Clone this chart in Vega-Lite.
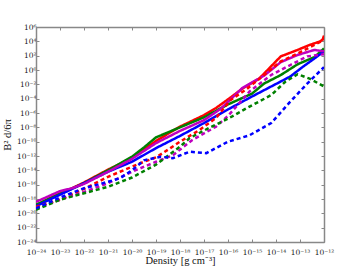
{
  "$schema": "https://vega.github.io/schema/vega-lite/v6.json",
  "width": 288,
  "height": 215,
  "autosize": {"type": "none"},
  "padding": {"left": 36, "top": 27, "right": 36, "bottom": 28},
  "background": "white",
  "config": {
    "view": {"stroke": null},
    "axis": {
      "grid": false,
      "domainColor": "#888888",
      "domainWidth": 1.5,
      "tickColor": "#888888",
      "tickSize": -3,
      "tickWidth": 1,
      "labelFont": "DejaVu Serif",
      "labelFontSize": 7.5,
      "labelColor": "#222222",
      "titleFont": "Liberation Serif",
      "titleFontSize": 10.5,
      "titleFontWeight": "normal",
      "titleColor": "#111111"
    }
  },
  "data": {
    "values": [
      {"run": "red", "style": "solid", "log_density": -24, "log_B": -18.9},
      {"run": "red", "style": "solid", "log_density": -23.5, "log_B": -18.0},
      {"run": "red", "style": "solid", "log_density": -23, "log_B": -17.2},
      {"run": "red", "style": "solid", "log_density": -22.5, "log_B": -16.5},
      {"run": "red", "style": "solid", "log_density": -22, "log_B": -15.7},
      {"run": "red", "style": "solid", "log_density": -21.5, "log_B": -14.8},
      {"run": "red", "style": "solid", "log_density": -21, "log_B": -13.9},
      {"run": "red", "style": "solid", "log_density": -20.5, "log_B": -13.1},
      {"run": "red", "style": "solid", "log_density": -20, "log_B": -12.2},
      {"run": "red", "style": "solid", "log_density": -19.5, "log_B": -11.1},
      {"run": "red", "style": "solid", "log_density": -19, "log_B": -9.9},
      {"run": "red", "style": "solid", "log_density": -18.5, "log_B": -8.9},
      {"run": "red", "style": "solid", "log_density": -18, "log_B": -7.9},
      {"run": "red", "style": "solid", "log_density": -17.5, "log_B": -7.1},
      {"run": "red", "style": "solid", "log_density": -17, "log_B": -6.3},
      {"run": "red", "style": "solid", "log_density": -16.5, "log_B": -5.3},
      {"run": "red", "style": "solid", "log_density": -16, "log_B": -4.1},
      {"run": "red", "style": "solid", "log_density": -15.4, "log_B": -2.6},
      {"run": "red", "style": "solid", "log_density": -14.7, "log_B": -1.2},
      {"run": "red", "style": "solid", "log_density": -13.8, "log_B": 1.9},
      {"run": "red", "style": "solid", "log_density": -13.1, "log_B": 2.8},
      {"run": "red", "style": "solid", "log_density": -12.6, "log_B": 3.5},
      {"run": "red", "style": "solid", "log_density": -12.15, "log_B": 4.0},
      {"run": "red", "style": "solid", "log_density": -12.05, "log_B": 4.3},
      {"run": "red", "style": "solid", "log_density": -12, "log_B": 4.8},

      {"run": "green", "style": "solid", "log_density": -24, "log_B": -18.8},
      {"run": "green", "style": "solid", "log_density": -23, "log_B": -17.3},
      {"run": "green", "style": "solid", "log_density": -22, "log_B": -15.8},
      {"run": "green", "style": "solid", "log_density": -21, "log_B": -14.0},
      {"run": "green", "style": "solid", "log_density": -20, "log_B": -12.1},
      {"run": "green", "style": "solid", "log_density": -19.5, "log_B": -10.8},
      {"run": "green", "style": "solid", "log_density": -19, "log_B": -9.4},
      {"run": "green", "style": "solid", "log_density": -18.5, "log_B": -8.7},
      {"run": "green", "style": "solid", "log_density": -18, "log_B": -8.0},
      {"run": "green", "style": "solid", "log_density": -17, "log_B": -6.6},
      {"run": "green", "style": "solid", "log_density": -16, "log_B": -4.8},
      {"run": "green", "style": "solid", "log_density": -15, "log_B": -3.3},
      {"run": "green", "style": "solid", "log_density": -14.5, "log_B": -1.9},
      {"run": "green", "style": "solid", "log_density": -13.8, "log_B": -0.7},
      {"run": "green", "style": "solid", "log_density": -13.1, "log_B": 0.8},
      {"run": "green", "style": "solid", "log_density": -12.4, "log_B": 1.8},
      {"run": "green", "style": "solid", "log_density": -12, "log_B": 3.0},

      {"run": "blue", "style": "solid", "log_density": -24, "log_B": -19.0},
      {"run": "blue", "style": "solid", "log_density": -23, "log_B": -17.4},
      {"run": "blue", "style": "solid", "log_density": -22, "log_B": -15.8},
      {"run": "blue", "style": "solid", "log_density": -21, "log_B": -14.2},
      {"run": "blue", "style": "solid", "log_density": -20, "log_B": -12.8},
      {"run": "blue", "style": "solid", "log_density": -19, "log_B": -10.9},
      {"run": "blue", "style": "solid", "log_density": -18, "log_B": -9.2},
      {"run": "blue", "style": "solid", "log_density": -17, "log_B": -7.4},
      {"run": "blue", "style": "solid", "log_density": -16, "log_B": -5.5},
      {"run": "blue", "style": "solid", "log_density": -15, "log_B": -3.7},
      {"run": "blue", "style": "solid", "log_density": -14.2, "log_B": -2.3},
      {"run": "blue", "style": "solid", "log_density": -13.4, "log_B": -0.9},
      {"run": "blue", "style": "solid", "log_density": -12.9, "log_B": 0.4},
      {"run": "blue", "style": "solid", "log_density": -12.4, "log_B": 1.6},
      {"run": "blue", "style": "solid", "log_density": -12, "log_B": 2.6},

      {"run": "magenta", "style": "solid", "log_density": -24, "log_B": -18.4},
      {"run": "magenta", "style": "solid", "log_density": -23.6, "log_B": -17.8},
      {"run": "magenta", "style": "solid", "log_density": -23, "log_B": -16.9},
      {"run": "magenta", "style": "solid", "log_density": -22.5, "log_B": -16.5},
      {"run": "magenta", "style": "solid", "log_density": -22, "log_B": -15.9},
      {"run": "magenta", "style": "solid", "log_density": -21, "log_B": -14.2},
      {"run": "magenta", "style": "solid", "log_density": -20, "log_B": -12.4},
      {"run": "magenta", "style": "solid", "log_density": -19, "log_B": -10.2},
      {"run": "magenta", "style": "solid", "log_density": -18, "log_B": -8.5},
      {"run": "magenta", "style": "solid", "log_density": -17, "log_B": -7.0},
      {"run": "magenta", "style": "solid", "log_density": -16.3, "log_B": -5.4},
      {"run": "magenta", "style": "solid", "log_density": -15.8, "log_B": -3.8},
      {"run": "magenta", "style": "solid", "log_density": -15.4, "log_B": -2.5},
      {"run": "magenta", "style": "solid", "log_density": -14.5, "log_B": -0.8},
      {"run": "magenta", "style": "solid", "log_density": -13.8, "log_B": 1.1},
      {"run": "magenta", "style": "solid", "log_density": -13.1, "log_B": 2.1},
      {"run": "magenta", "style": "solid", "log_density": -12.4, "log_B": 2.8},
      {"run": "magenta", "style": "solid", "log_density": -12, "log_B": 2.6},

      {"run": "red", "style": "dashed", "log_density": -24, "log_B": -19.1},
      {"run": "red", "style": "dashed", "log_density": -23, "log_B": -18.1},
      {"run": "red", "style": "dashed", "log_density": -22, "log_B": -16.6},
      {"run": "red", "style": "dashed", "log_density": -21, "log_B": -14.9},
      {"run": "red", "style": "dashed", "log_density": -20.5, "log_B": -14.2},
      {"run": "red", "style": "dashed", "log_density": -20, "log_B": -13.5},
      {"run": "red", "style": "dashed", "log_density": -19.5, "log_B": -12.8},
      {"run": "red", "style": "dashed", "log_density": -19, "log_B": -12.2},
      {"run": "red", "style": "dashed", "log_density": -18.4, "log_B": -10.9},
      {"run": "red", "style": "dashed", "log_density": -18, "log_B": -10.0},
      {"run": "red", "style": "dashed", "log_density": -17.2, "log_B": -8.4},
      {"run": "red", "style": "dashed", "log_density": -16.5, "log_B": -6.7},
      {"run": "red", "style": "dashed", "log_density": -15.9, "log_B": -4.2},
      {"run": "red", "style": "dashed", "log_density": -15.2, "log_B": -2.6},
      {"run": "red", "style": "dashed", "log_density": -14.5, "log_B": -0.7},
      {"run": "red", "style": "dashed", "log_density": -13.8, "log_B": 1.2},
      {"run": "red", "style": "dashed", "log_density": -13.1, "log_B": 2.3},
      {"run": "red", "style": "dashed", "log_density": -12.4, "log_B": 3.5},
      {"run": "red", "style": "dashed", "log_density": -12, "log_B": 4.2},

      {"run": "magenta", "style": "dashed", "log_density": -24, "log_B": -19.3},
      {"run": "magenta", "style": "dashed", "log_density": -23, "log_B": -18.1},
      {"run": "magenta", "style": "dashed", "log_density": -22, "log_B": -17.0},
      {"run": "magenta", "style": "dashed", "log_density": -21, "log_B": -15.8},
      {"run": "magenta", "style": "dashed", "log_density": -20, "log_B": -14.2},
      {"run": "magenta", "style": "dashed", "log_density": -19, "log_B": -12.8},
      {"run": "magenta", "style": "dashed", "log_density": -18.3, "log_B": -11.9},
      {"run": "magenta", "style": "dashed", "log_density": -17.5, "log_B": -9.8},
      {"run": "magenta", "style": "dashed", "log_density": -16.5, "log_B": -7.9},
      {"run": "magenta", "style": "dashed", "log_density": -16, "log_B": -6.4},
      {"run": "magenta", "style": "dashed", "log_density": -15.1, "log_B": -3.0},
      {"run": "magenta", "style": "dashed", "log_density": -14.2, "log_B": -0.7},
      {"run": "magenta", "style": "dashed", "log_density": -13.4, "log_B": 0.7},
      {"run": "magenta", "style": "dashed", "log_density": -12.7, "log_B": 1.9},
      {"run": "magenta", "style": "dashed", "log_density": -12, "log_B": 2.2},

      {"run": "green", "style": "dashed", "log_density": -24, "log_B": -19.5},
      {"run": "green", "style": "dashed", "log_density": -23, "log_B": -18.1},
      {"run": "green", "style": "dashed", "log_density": -22, "log_B": -17.2},
      {"run": "green", "style": "dashed", "log_density": -21, "log_B": -16.3},
      {"run": "green", "style": "dashed", "log_density": -20, "log_B": -15.0},
      {"run": "green", "style": "dashed", "log_density": -19, "log_B": -13.2},
      {"run": "green", "style": "dashed", "log_density": -18, "log_B": -10.7},
      {"run": "green", "style": "dashed", "log_density": -17.6, "log_B": -9.5},
      {"run": "green", "style": "dashed", "log_density": -16.8, "log_B": -8.1},
      {"run": "green", "style": "dashed", "log_density": -16, "log_B": -6.8},
      {"run": "green", "style": "dashed", "log_density": -15.1, "log_B": -5.1},
      {"run": "green", "style": "dashed", "log_density": -14.2, "log_B": -3.5},
      {"run": "green", "style": "dashed", "log_density": -13.6, "log_B": -1.6},
      {"run": "green", "style": "dashed", "log_density": -13.1, "log_B": -0.6},
      {"run": "green", "style": "dashed", "log_density": -12.6, "log_B": -1.2},
      {"run": "green", "style": "dashed", "log_density": -12, "log_B": -2.3},

      {"run": "blue", "style": "dashed", "log_density": -24, "log_B": -19.3},
      {"run": "blue", "style": "dashed", "log_density": -23, "log_B": -17.8},
      {"run": "blue", "style": "dashed", "log_density": -22, "log_B": -16.5},
      {"run": "blue", "style": "dashed", "log_density": -21, "log_B": -15.6},
      {"run": "blue", "style": "dashed", "log_density": -20.5, "log_B": -15.1},
      {"run": "blue", "style": "dashed", "log_density": -20, "log_B": -14.0},
      {"run": "blue", "style": "dashed", "log_density": -19.5, "log_B": -12.6},
      {"run": "blue", "style": "dashed", "log_density": -18.8, "log_B": -12.1},
      {"run": "blue", "style": "dashed", "log_density": -18.3, "log_B": -12.3},
      {"run": "blue", "style": "dashed", "log_density": -17.6, "log_B": -11.4},
      {"run": "blue", "style": "dashed", "log_density": -16.9, "log_B": -11.6},
      {"run": "blue", "style": "dashed", "log_density": -16, "log_B": -10.0},
      {"run": "blue", "style": "dashed", "log_density": -15.1, "log_B": -9.1},
      {"run": "blue", "style": "dashed", "log_density": -14.2, "log_B": -7.4},
      {"run": "blue", "style": "dashed", "log_density": -13.4, "log_B": -4.4},
      {"run": "blue", "style": "dashed", "log_density": -12.7, "log_B": -1.9},
      {"run": "blue", "style": "dashed", "log_density": -12, "log_B": 0.4}
    ]
  },
  "layer": [
    {
      "mark": {"type": "line", "strokeWidth": 2.5, "clip": true},
      "encoding": {
        "x": {
          "field": "log_density", "type": "quantitative",
          "scale": {"domain": [-24, -12], "nice": false, "zero": false},
          "axis": {
            "orient": "bottom",
            "values": [-24, -23, -22, -21, -20, -19, -18, -17, -16, -15, -14, -13, -12],
            "labelExpr": "'10' + (datum.value < 0 ? '⁻' : '') + (abs(datum.value) >= 10 ? ['⁰','¹','²','³','⁴','⁵','⁶','⁷','⁸','⁹'][floor(abs(datum.value)/10)] : '') + ['⁰','¹','²','³','⁴','⁵','⁶','⁷','⁸','⁹'][abs(datum.value) % 10]",
            "labelPadding": 9,
            "labelFlush": false,
            "title": "Density [g cm⁻³]",
            "titlePadding": 0
          }
        },
        "y": {
          "field": "log_B", "type": "quantitative",
          "scale": {"domain": [-24, 6], "nice": false, "zero": false},
          "axis": {
            "orient": "left",
            "values": [-24, -22, -20, -18, -16, -14, -12, -10, -8, -6, -4, -2, 0, 2, 4, 6],
            "labelExpr": "'10' + (datum.value < 0 ? '⁻' : '') + (abs(datum.value) >= 10 ? ['⁰','¹','²','³','⁴','⁵','⁶','⁷','⁸','⁹'][floor(abs(datum.value)/10)] : '') + ['⁰','¹','²','³','⁴','⁵','⁶','⁷','⁸','⁹'][abs(datum.value) % 10]",
            "labelPadding": 3,
            "labelFlush": false,
            "title": "B² d/6π",
            "titleX": -29,
            "titleBaseline": "middle"
          }
        },
        "color": {
          "field": "run", "type": "nominal",
          "scale": {"domain": ["blue", "green", "magenta", "red"], "range": ["#0000ff", "#008000", "#bf00bf", "#ff0000"]},
          "legend": null
        },
        "strokeDash": {
          "field": "style", "type": "nominal",
          "scale": {"domain": ["solid", "dashed"], "range": [[1, 0], [4, 3]]},
          "legend": null
        },
        "order": {"field": "log_density", "type": "quantitative"}
      }
    },
    {
      "mark": {"type": "line", "opacity": 0},
      "encoding": {
        "x": {
          "field": "log_density", "type": "quantitative",
          "axis": {"orient": "top", "values": [-24, -23, -22, -21, -20, -19, -18, -17, -16, -15, -14, -13, -12], "labels": false, "title": null}
        },
        "y": {
          "field": "log_B", "type": "quantitative",
          "axis": {"orient": "right", "values": [-24, -22, -20, -18, -16, -14, -12, -10, -8, -6, -4, -2, 0, 2, 4, 6], "labels": false, "title": null}
        },
        "detail": {"field": "run"}
      }
    }
  ],
  "resolve": {"axis": {"x": "independent", "y": "independent"}}
}
